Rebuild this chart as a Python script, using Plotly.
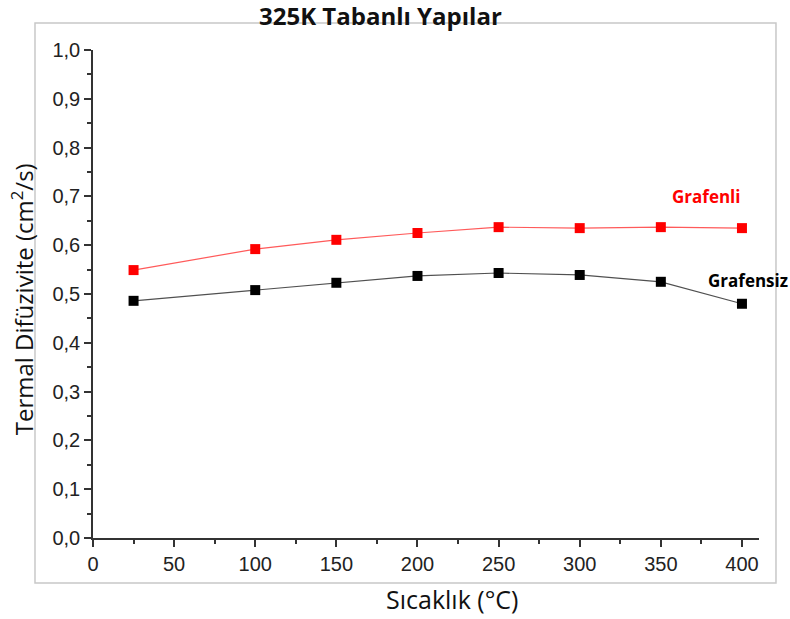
import plotly.graph_objects as go

# temperature (°C) and thermal diffusivity (cm2/s)
sicaklik = [25, 100, 150, 200, 250, 300, 350, 400]
grafenli = [0.549, 0.592, 0.611, 0.625, 0.637, 0.635, 0.637, 0.635]
grafensiz = [0.486, 0.508, 0.523, 0.537, 0.543, 0.539, 0.525, 0.480]

y_ticks = [0.0, 0.1, 0.2, 0.3, 0.4, 0.5, 0.6, 0.7, 0.8, 0.9, 1.0]
x_ticks = [0, 50, 100, 150, 200, 250, 300, 350, 400]

fig = go.Figure()

fig.add_trace(go.Scatter(
    x=sicaklik, y=grafenli, name="Grafenli", mode="lines+markers",
    line=dict(color="#ff5a5a", width=1.2),
    marker=dict(symbol="square", size=10, color="#ff0000"),
))
fig.add_trace(go.Scatter(
    x=sicaklik, y=grafensiz, name="Grafensiz", mode="lines+markers",
    line=dict(color="#505050", width=1.2),
    marker=dict(symbol="square", size=10, color="#000000"),
))

axis_font = dict(family="Liberation Sans, Arial", size=20, color="#222222")

fig.update_xaxes(
    range=[0, 410.5], tickvals=x_ticks, ticks="outside", ticklen=7, tickwidth=1.5,
    tickcolor="#333333", showline=True, linecolor="#333333", linewidth=1.5,
    showgrid=False, zeroline=False, tickfont=axis_font,
    minor=dict(dtick=25, ticks="outside", ticklen=4, tickwidth=1.5, tickcolor="#333333", showgrid=False),
)
fig.update_yaxes(
    range=[0, 1.0], tickvals=y_ticks, tickformat=".1f", ticks="outside", ticklen=7, tickwidth=1.5,
    tickcolor="#333333", showline=True, linecolor="#333333", linewidth=1.5,
    showgrid=False, zeroline=False, tickfont=axis_font,
    minor=dict(dtick=0.05, ticks="outside", ticklen=4, tickwidth=1.5, tickcolor="#333333", showgrid=False),
)

# outer frame
fig.add_shape(type="rect", xref="paper", yref="paper",
              x0=-0.0871, x1=1.0255, y0=-0.0922, y1=1.0553,
              line=dict(color="#c8c8c8", width=1.5), layer="below")

fig.add_annotation(text="<b>325K Tabanlı Yapılar</b>", xref="paper", yref="paper",
                   x=0.432, y=1.07, xanchor="center", yanchor="middle", showarrow=False,
                   font=dict(family="Open Sans", size=24, color="#111111"))
fig.add_annotation(text="Sıcaklık (°C)", xref="paper", yref="paper",
                   x=0.539, y=-0.124, xanchor="center", yanchor="middle", showarrow=False,
                   font=dict(family="Open Sans", size=25, color="#111111"))
fig.add_annotation(text="Termal Difüzivite (cm<sup>2</sup>/s)", xref="paper", yref="paper",
                   x=-0.106, y=0.49, xanchor="center", yanchor="middle", textangle=-90,
                   showarrow=False,
                   font=dict(family="Open Sans", size=24, color="#111111"))

fig.add_annotation(text="<b>Grafenli</b>", x=378, y=0.699, showarrow=False,
                   font=dict(family="Open Sans", size=17, color="#ff0000"))
fig.add_annotation(text="<b>Grafensiz</b>", x=404, y=0.527, showarrow=False,
                   font=dict(family="Open Sans", size=17, color="#000000"))

fig.update_layout(
    width=790, height=619,
    margin=dict(l=93, r=31, t=50, b=81),
    paper_bgcolor="white", plot_bgcolor="white",
    showlegend=False, separators=",.",
)

# drop the default 8px page margin so the figure fills the window
fig.write_html("out.html", config={"displayModeBar": False},
               post_script="document.body.style.margin='0';")
